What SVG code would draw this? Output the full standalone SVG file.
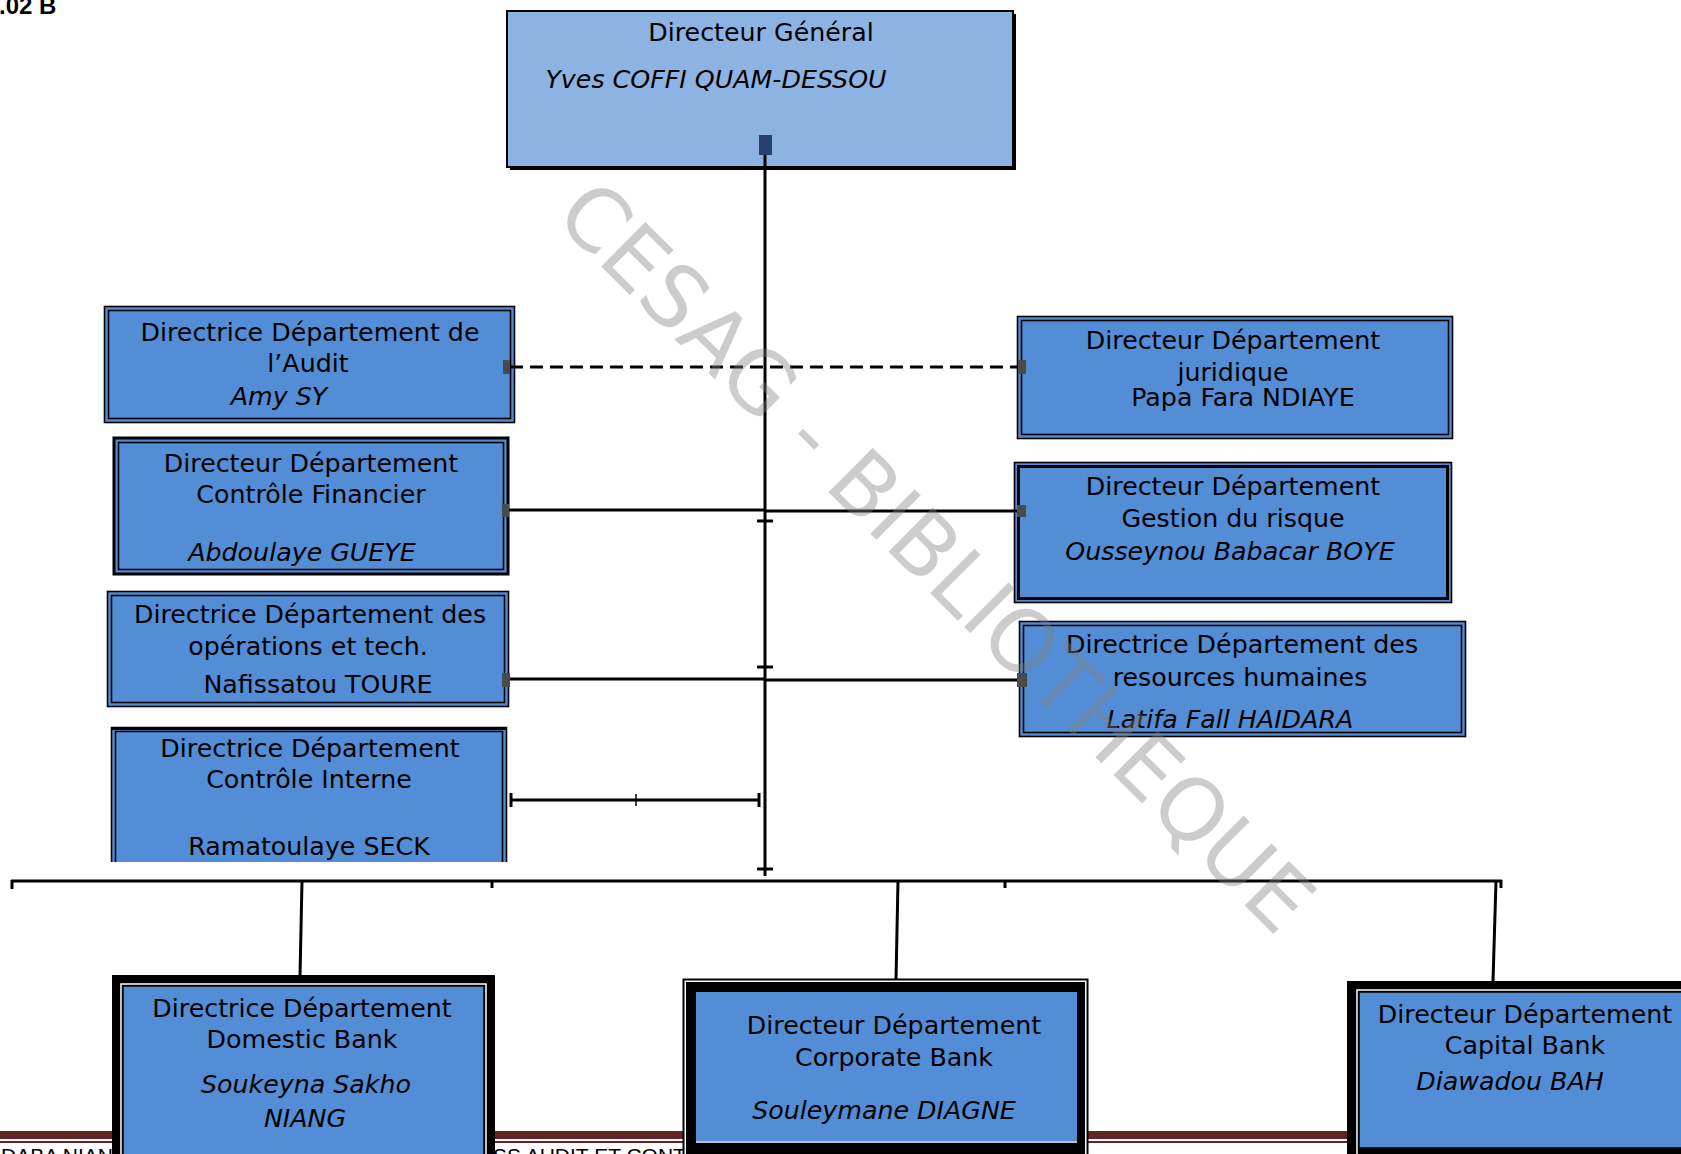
<svg xmlns="http://www.w3.org/2000/svg" width="1681" height="1154" viewBox="0 0 1681 1154">
<style>
.t{font-family:"DejaVu Sans","Liberation Sans",sans-serif;font-size:25.3px;fill:#000;text-anchor:middle}
.i{font-style:italic}
.box{fill:#538DD5}
.ln{stroke:#000;stroke-width:3;fill:none}
.thin{fill:none;stroke:#000;stroke-width:1.6}
.thick{fill:none;stroke:#000;stroke-width:3}
.tip{fill:#4a4a4a}
.ft{font-family:"Liberation Sans",sans-serif;font-size:21px;fill:#000}
.wm{font-family:"DejaVu Sans","Liberation Sans",sans-serif;font-size:86px;fill:#808080;fill-opacity:0.4;text-anchor:middle}
</style>
<rect width="1681" height="1154" fill="#fff"/>
<text x="-1" y="14" style="font-family:'Liberation Sans',sans-serif;font-size:24px;font-weight:bold">.02 B</text>
<g id="footer-rule">
<rect x="0" y="1131" width="1681" height="8" fill="#632523"/>
<rect x="0" y="1141" width="1681" height="2" fill="#632523"/>
<text class="ft" x="1" y="1163">DABA NIANG</text>
<text class="ft" x="493" y="1163">SS AUDIT ET CONTROLE</text>
</g>
<g id="dg">
<rect x="510" y="14" width="506" height="156" fill="#000"/>
<rect x="507" y="11" width="506" height="156" fill="#8DB3E2" stroke="#000" stroke-width="2"/>
<text class="t" x="761" y="41">Directeur Général</text>
<text class="t i" x="716" y="88">Yves COFFI QUAM-DESSOU</text>
</g>
<g id="audit">
<rect class="box" x="104.5" y="306.5" width="410" height="116"/>
<rect class="thin" x="104.5" y="306.5" width="410" height="116"/>
<rect class="thin" x="108.5" y="310.5" width="402" height="108"/>
<text class="t" x="310" y="341">Directrice Département de</text>
<text class="t" x="308" y="372">l’Audit</text>
<text class="t i" x="279" y="405">Amy SY</text>
</g>
<g id="controle-financier">
<rect class="box" x="113.5" y="437.5" width="395" height="137"/>
<rect class="thick" x="114" y="438" width="394" height="136"/>
<rect class="thin" x="118.5" y="442.5" width="385" height="127"/>
<text class="t" x="311" y="472">Directeur Département</text>
<text class="t" x="311" y="503">Contrôle Financier</text>
<text class="t i" x="302" y="561">Abdoulaye GUEYE</text>
</g>
<g id="operations">
<rect class="box" x="107.5" y="591.5" width="401" height="115"/>
<rect class="thin" x="107.5" y="591.5" width="401" height="115"/>
<rect class="thin" x="111.5" y="595.5" width="393" height="107"/>
<text class="t" x="310" y="623">Directrice Département des</text>
<text class="t" x="308" y="655">opérations et tech.</text>
<text class="t" x="318" y="693">Nafissatou TOURE</text>
</g>
<g id="controle-interne">
<rect class="box" x="111" y="727" width="396" height="135"/>
<path class="thin" d="M111.5 862 V727.5 H506.5 V862"/>
<path class="thin" d="M115.5 862 V731.5 H502.5 V862"/>
<line x1="111" y1="728.5" x2="507" y2="728.5" stroke="#000" stroke-width="3"/>
<text class="t" x="310" y="757">Directrice Département</text>
<text class="t" x="309" y="788">Contrôle Interne</text>
<text class="t" x="309" y="855">Ramatoulaye SECK</text>
</g>
<g id="juridique">
<rect class="box" x="1017.5" y="316.5" width="435" height="122"/>
<rect class="thin" x="1017.5" y="316.5" width="435" height="122"/>
<rect class="thin" x="1021.5" y="320.5" width="427" height="114"/>
<text class="t" x="1233" y="349">Directeur Département</text>
<text class="t" x="1233" y="381">juridique</text>
<text class="t" x="1243" y="406">Papa Fara NDIAYE</text>
</g>
<g id="risque">
<rect class="box" x="1014.5" y="462.5" width="437" height="140"/>
<rect class="thin" x="1014.5" y="462.5" width="437" height="140"/>
<rect class="thick" x="1018.5" y="466.5" width="429" height="132"/>
<text class="t" x="1233" y="495">Directeur Département</text>
<text class="t" x="1233" y="527">Gestion du risque</text>
<text class="t i" x="1230" y="560">Ousseynou Babacar BOYE</text>
</g>
<g id="rh">
<rect class="box" x="1019.5" y="621.5" width="446" height="115"/>
<rect class="thin" x="1019.5" y="621.5" width="446" height="115"/>
<rect class="thin" x="1023.5" y="625.5" width="438" height="107"/>
<text class="t" x="1242" y="653">Directrice Département des</text>
<text class="t" x="1240" y="686">resources humaines</text>
<text class="t i" x="1230" y="728">Latifa Fall HAIDARA</text>
</g>
<g id="domestic">
<rect x="112" y="975" width="383" height="190" fill="#000"/>
<rect x="121" y="984" width="365" height="180" fill="none" stroke="#fff" stroke-width="1.5"/>
<rect x="123" y="986" width="361" height="180" fill="#538DD5" stroke="#000" stroke-width="1.5"/>
<text class="t" x="302" y="1017">Directrice Département</text>
<text class="t" x="302" y="1048">Domestic Bank</text>
<text class="t i" x="306" y="1093">Soukeyna Sakho</text>
<text class="t i" x="305" y="1127">NIANG</text>
</g>
<g id="corporate">
<rect x="683.5" y="979.5" width="404" height="190" fill="#fff" stroke="#000" stroke-width="2"/>
<rect x="686" y="982" width="399" height="190" fill="#000"/>
<rect x="696" y="992" width="381" height="149" fill="#538DD5"/>
<line x1="696" y1="1142" x2="1077" y2="1142" stroke="#fff" stroke-width="1.5"/>
<text class="t" x="894" y="1034">Directeur Département</text>
<text class="t" x="894" y="1066">Corporate Bank</text>
<text class="t i" x="884" y="1119">Souleymane DIAGNE</text>
</g>
<g id="capital">
<rect x="1347" y="981" width="345" height="180" fill="#000"/>
<rect x="1357" y="990" width="335" height="170" fill="none" stroke="#fff" stroke-width="1.5"/>
<rect x="1359" y="992" width="330" height="156" fill="#538DD5" stroke="#000" stroke-width="1.5"/>
<text class="t" x="1525" y="1023">Directeur Département</text>
<text class="t" x="1525" y="1054">Capital Bank</text>
<text class="t i" x="1510" y="1090">Diawadou BAH</text>
</g>
<g id="connectors">
<line class="ln" x1="765" y1="140" x2="765" y2="876"/>
<rect x="759" y="135" width="13" height="20" fill="#24406e"/>
<line class="ln" x1="510" y1="367" x2="1019" y2="367" stroke-dasharray="13 7"/>
<rect class="tip" x="503" y="360" width="7" height="14"/>
<rect class="tip" x="1018" y="360" width="8" height="14"/>
<line class="ln" x1="509" y1="510" x2="765" y2="510"/>
<line class="ln" x1="765" y1="511" x2="1017" y2="511"/>
<rect class="tip" x="502" y="504" width="7" height="13"/>
<rect class="tip" x="1017" y="505" width="9" height="12"/>
<line class="ln" x1="509" y1="679" x2="765" y2="679"/>
<line class="ln" x1="765" y1="680" x2="1019" y2="680"/>
<rect class="tip" x="502" y="673" width="8" height="14"/>
<rect class="tip" x="1017" y="673" width="10" height="14"/>
<line class="ln" x1="510" y1="800" x2="760" y2="800"/>
<line class="ln" x1="511" y1="793" x2="511" y2="807"/>
<line class="ln" x1="759" y1="793" x2="759" y2="807"/>
<line x1="636" y1="794" x2="636" y2="806" stroke="#000" stroke-width="1.5"/>
<line class="ln" x1="757" y1="521" x2="773" y2="521"/>
<line class="ln" x1="757" y1="667" x2="773" y2="667"/>
<line class="ln" x1="757" y1="869" x2="773" y2="869"/>
<line class="ln" x1="11" y1="881" x2="1502" y2="881"/>
<line class="ln" x1="12" y1="880" x2="12" y2="889"/>
<line class="ln" x1="492" y1="880" x2="492" y2="888"/>
<line class="ln" x1="1005" y1="880" x2="1005" y2="888"/>
<line class="ln" x1="1501" y1="880" x2="1501" y2="888"/>
<line class="ln" x1="302" y1="881" x2="300" y2="976"/>
<line class="ln" x1="898" y1="881" x2="896" y2="980"/>
<line class="ln" x1="1496" y1="881" x2="1493" y2="981"/>
</g>
<text class="wm" x="915" y="578" transform="rotate(44.8 915 578)">CESAG - BIBLIOTHEQUE</text>
</svg>
